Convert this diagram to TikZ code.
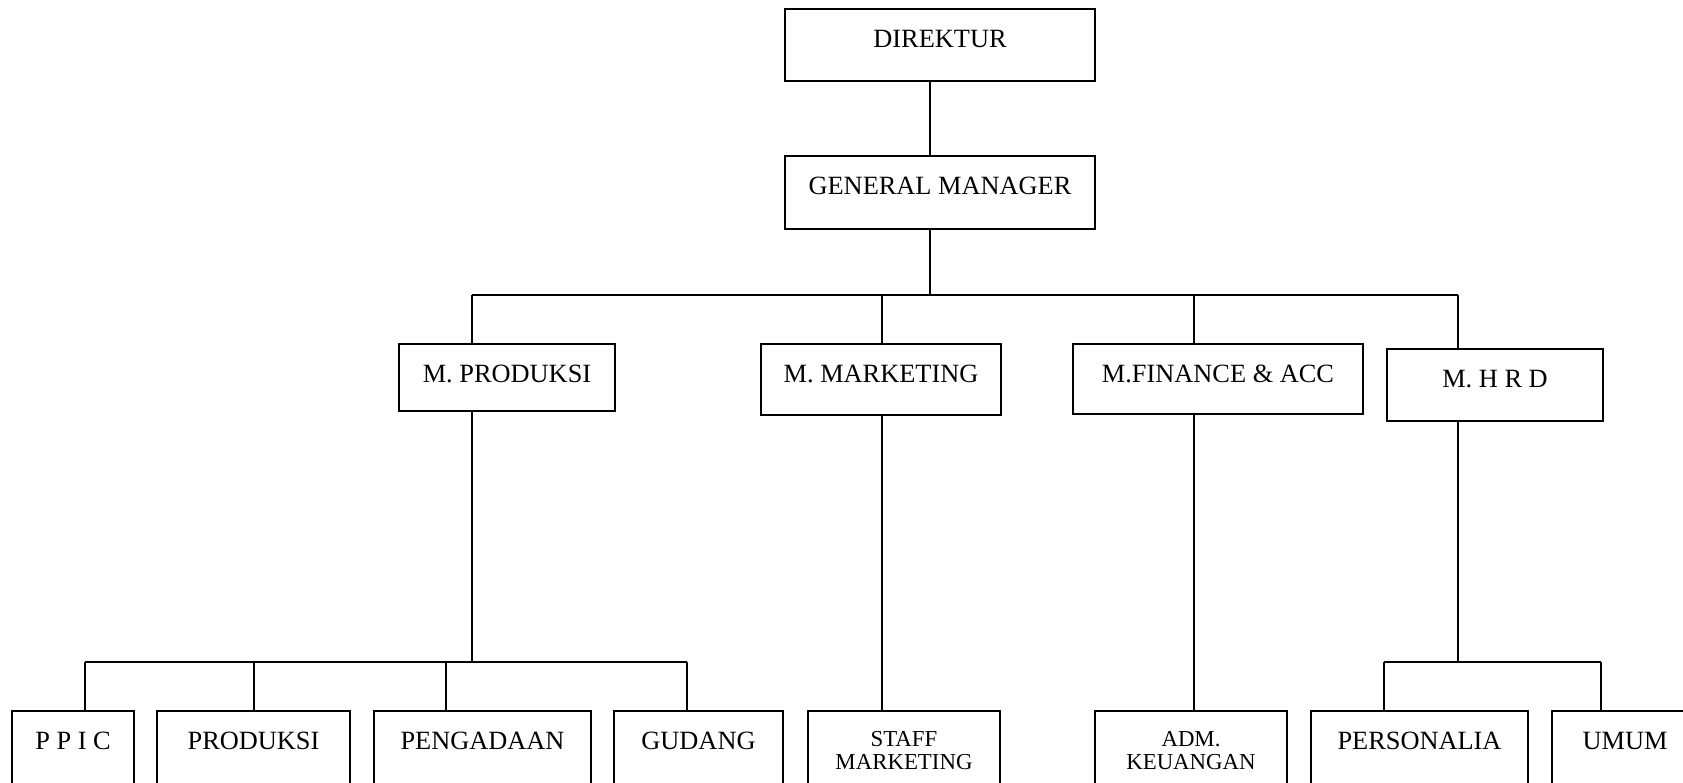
\documentclass[tikz,border=0pt]{standalone}
\usepackage{fontspec}
\setmainfont{Liberation Serif}
\usepackage{tikz}

\tikzset{
	box/.style={draw, line width=1.1pt, anchor=north, inner xsep=0pt, inner ysep=0pt,
		text height=0.78cm, font=\fontsize{15}{17}\selectfont},
	small/.style={align=center, text height=1.18cm, font=\fontsize{13}{13.6}\selectfont},
	link/.style={line width=1.1pt}
}

\begin{document}
\begin{tikzpicture}[x=0.02cm, y=-0.02cm]
		\useasboundingbox (0,0) rectangle (1683,782);
		\clip (0,0) rectangle (1683,782);
		\node[box, minimum width=6.2cm, text depth=0.66cm] (dir) at (940,8) {DIREKTUR};
		\node[box, minimum width=6.2cm, text depth=0.68cm] (gm) at (940,155) {GENERAL MANAGER};
		\node[box, minimum width=4.32cm, text depth=0.56cm] (prod) at (507,343) {M. PRODUKSI};
		\node[box, minimum width=4.8cm, text depth=0.64cm] (mkt) at (881,343) {M. MARKETING};
		\node[box, minimum width=5.8cm, text depth=0.62cm] (fin) at (1218,343) {M.FINANCE \& ACC};
		\node[box, minimum width=4.32cm, text depth=0.66cm] (hrd) at (1495,348) {M. H R D};
		\node[box, minimum width=2.44cm, text depth=3cm] (ppic) at (73,710) {P P I C};
		\node[box, minimum width=3.86cm, text depth=3cm] (prd) at (253.5,710) {PRODUKSI};
		\node[box, minimum width=4.34cm, text depth=3cm] (pgd) at (482.5,710) {PENGADAAN};
		\node[box, minimum width=3.38cm, text depth=3cm] (gdg) at (698.5,710) {GUDANG};
		\node[box, small, minimum width=3.84cm, text depth=3cm] (stf) at (904,710) {STAFF\\MARKETING};
		\node[box, small, minimum width=3.84cm, text depth=3cm] (adm) at (1191,710) {ADM.\\KEUANGAN};
		\node[box, minimum width=4.34cm, text depth=3cm] (prs) at (1419.5,710) {PERSONALIA};
		\node[box, minimum width=2.92cm, text depth=3cm] (umm) at (1625,710) {UMUM};

		\coordinate (top) at (930,295);
		\coordinate (b1) at (472,295);
		\coordinate (b2) at (882,295);
		\coordinate (b3) at (1194,295);
		\coordinate (b4) at (1458,295);
		\coordinate (p1) at (85,662);
		\coordinate (p2) at (254,662);
		\coordinate (p3) at (446,662);
		\coordinate (p4) at (687,662);
		\coordinate (h1) at (1384,662);
		\coordinate (h2) at (1601,662);

		\draw[link] (dir.south -| top) -- (gm.north -| top);
		\draw[link] (gm.south -| top) -- (top);
		\draw[link] (b1) -- (b4);
		\draw[link] (b1) -- (prod.north -| b1);
		\draw[link] (b2) -- (mkt.north -| b2);
		\draw[link] (b3) -- (fin.north -| b3);
		\draw[link] (b4) -- (hrd.north -| b4);

		\draw[link] (prod.south -| b1) -- (b1 |- p1);
		\draw[link] (p1) -- (p4);
		\draw[link] (p1) -- (ppic.north -| p1);
		\draw[link] (p2) -- (prd.north -| p2);
		\draw[link] (p3) -- (pgd.north -| p3);
		\draw[link] (p4) -- (gdg.north -| p4);
		\draw[link] (mkt.south -| b2) -- (stf.north -| b2);
		\draw[link] (fin.south -| b3) -- (adm.north -| b3);
		\draw[link] (hrd.south -| b4) -- (b4 |- h1);
		\draw[link] (h1) -- (h2);
		\draw[link] (h1) -- (prs.north -| h1);
		\draw[link] (h2) -- (umm.north -| h2);
\end{tikzpicture}
\end{document}
